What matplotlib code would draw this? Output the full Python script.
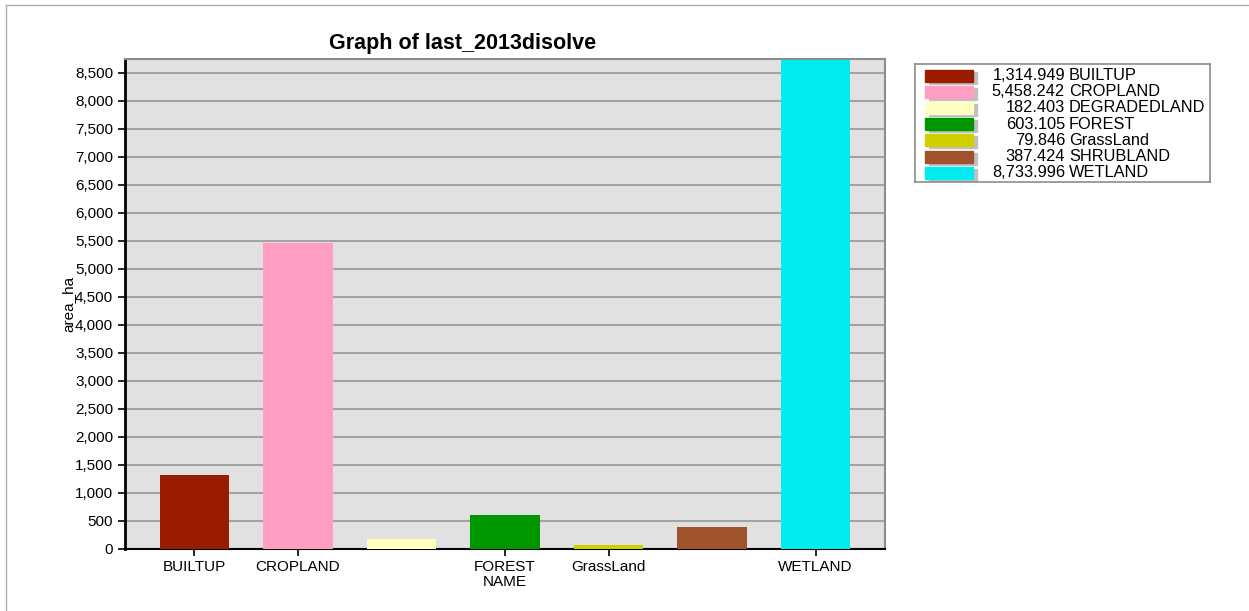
import matplotlib.pyplot as plt
from matplotlib.patches import Rectangle
from matplotlib.ticker import FuncFormatter
import numpy as np

plt.rcParams['font.family'] = ['Liberation Sans', 'DejaVu Sans']

names = ['BUILTUP', 'CROPLAND', 'DEGRADEDLAND', 'FOREST', 'GrassLand', 'SHRUBLAND', 'WETLAND']
area_ha = [1314.949, 5458.242, 182.403, 603.105, 79.846, 387.424, 8733.996]
colors = ['#991c00', '#ff9ec2', '#ffffc0', '#009600', '#d0d000', '#a0522d', '#00ecee']
shown_ticks = [0, 1, 3, 4, 6]

fig = plt.figure(figsize=(12.49, 6.11), dpi=100)

# thin frame lines at the top and left of the image
fig.add_artist(plt.Line2D([6 / 1249, 6 / 1249], [0, 1 - 5 / 611], color='#b0b0b0', lw=1))
fig.add_artist(plt.Line2D([6 / 1249, 1], [1 - 5 / 611, 1 - 5 / 611], color='#b0b0b0', lw=1))

ax = fig.add_axes([125 / 1249, 1 - 549 / 611, 760 / 1249, 490 / 611])
ax.set_facecolor('#e1e1e1')
x = np.arange(len(names))
ax.bar(x, area_ha, width=0.67, color=colors, zorder=3)
ax.set_xlim(-0.67, 6.67)
ax.set_ylim(0, 8750)
ax.set_yticks(np.arange(0, 8501, 500))
ax.yaxis.set_major_formatter(FuncFormatter(lambda v, p: '{:,.0f}'.format(v)))
ax.set_xticks(shown_ticks)
ax.set_xticklabels([names[i] for i in shown_ticks])
ax.grid(axis='y', color='#a3a3a3', lw=1.5, zorder=1)
ax.tick_params(axis='both', labelsize=11, color='black', width=1.2, length=5)
ax.tick_params(axis='x', pad=3)
for s in ['top', 'right']:
    ax.spines[s].set_color('#8c8c8c')
    ax.spines[s].set_linewidth(1.5)
ax.spines['left'].set_linewidth(2)
ax.spines['bottom'].set_linewidth(1.5)
ax.set_ylabel('area_ha', fontsize=11, labelpad=0)
ax.set_xlabel('NAME', fontsize=11, labelpad=1)

fig.text(463 / 1249, 1 - 43 / 611, 'Graph of last_2013disolve', fontsize=15.5,
         fontweight='bold', ha='center', va='center')

# legend drawn by hand in its own axes (pixel coordinates)
lg = fig.add_axes([915 / 1249, 1 - 182 / 611, 295 / 1249, 118 / 611])
lg.set_xlim(915, 1210)
lg.set_ylim(182, 64)
lg.set_xticks([])
lg.set_yticks([])
for s in lg.spines.values():
    s.set_color('#8c8c8c')
    s.set_linewidth(1.2)
for i, (n, v, c) in enumerate(zip(names, area_ha, colors)):
    yc = 75.5 + i * 16.2
    lg.add_patch(Rectangle((929, yc - 4), 48, 12, color='#c0c0c0'))
    lg.add_patch(Rectangle((925, yc - 6), 48, 12, color=c))
    lg.text(1065, yc, '{:,.3f}'.format(v), fontsize=11.8, ha='right', va='center')
    lg.text(1069, yc, n, fontsize=11.8, ha='left', va='center')

plt.savefig('out.png')
